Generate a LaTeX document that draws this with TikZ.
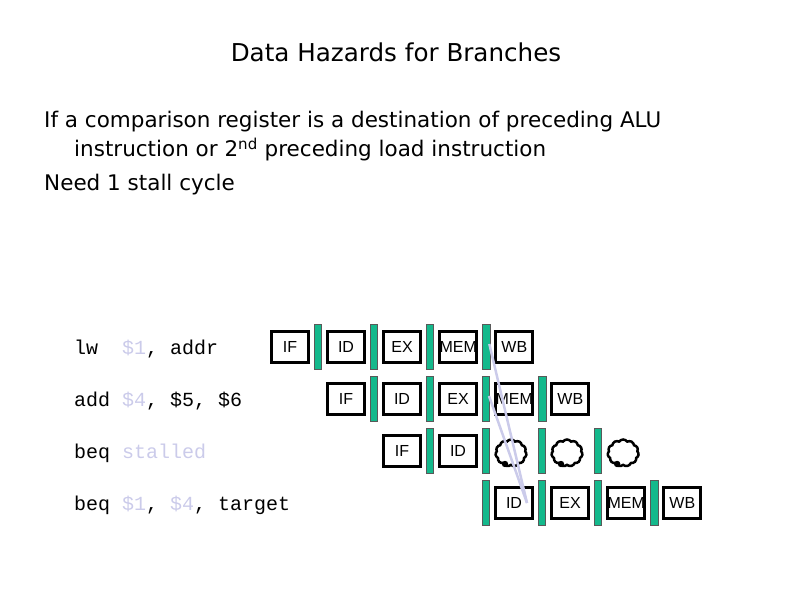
\documentclass[tikz,border=0pt]{standalone}
\usepackage{fontspec}
\setmainfont{DejaVu Sans}
\setsansfont{Liberation Sans}
\setmonofont{Liberation Mono}
\usepackage{xcolor}
\usetikzlibrary{positioning,calc,shapes.symbols}
\definecolor{latchgreen}{HTML}{14B98C}
\definecolor{fwdblue}{HTML}{CBCBEA}
\newcommand{\reg}[1]{\textcolor{fwdblue}{#1}}
\tikzset{
  stagebox/.style={draw,line width=3pt,minimum width=37pt,minimum height=31pt,inner sep=0pt,outer sep=0pt,font=\sffamily\fontsize{16}{16}\selectfont},
  latch/.style={draw=black!65,line width=.6pt,fill=latchgreen,minimum width=7.2pt,minimum height=45pt,inner sep=0pt,outer sep=0pt},
  bubble/.style={draw,line width=2.5pt,cloud,cloud puffs=11,cloud puff arc=110,aspect=1.15,minimum width=31pt,minimum height=27pt,inner sep=0pt,xshift=-3pt,yshift=-2pt},
  heading/.style={anchor=base,inner sep=0pt,font=\fontsize{24.6}{24}\selectfont},
  bodyline/.style={anchor=base west,inner sep=0pt,font=\fontsize{21.5}{24}\selectfont},
  code/.style={anchor=base west,inner sep=0pt,font=\ttfamily\fontsize{20}{20}\selectfont},
  fwd/.style={draw=fwdblue,line width=2.5pt},
}
\begin{document}
\begin{tikzpicture}[x=1pt,y=-1pt,node distance=5.9pt]
\useasboundingbox (0,0) rectangle (792,612);
\node[heading] (title) at (396,62) {Data Hazards for Branches};
\node[bodyline] (line1) at (44,128) {If a comparison register is a destination of preceding ALU};
\node[bodyline] (line2) at (74,157) {instruction or 2\textsuperscript{nd} preceding load instruction};
\node[bodyline] (line3) at (44,191) {Need 1 stall cycle};
\node[code] (lw) at (74,354) {lw\ \ \reg{\$1}, addr};
\node[code] (add) at (74,406) {add \reg{\$4}, \$5, \$6};
\node[code] (stall) at (74,458) {beq \reg{stalled}};
\node[code] (beq) at (74,510) {beq \reg{\$1}, \reg{\$4}, target};
% first row
\node[stagebox] (r1if) at (290,347) {IF};
\node[latch, right=of r1if] (r1b1) {};
\node[stagebox, right=of r1b1] (r1id) {ID};
\node[latch, right=of r1id] (r1b2) {};
\node[stagebox, right=of r1b2] (r1ex) {EX};
\node[latch, right=of r1ex] (r1b3) {};
\node[stagebox, right=of r1b3] (r1mem) {MEM};
\node[latch, right=of r1mem] (r1b4) {};
\node[stagebox, right=of r1b4] (r1wb) {WB};
% second row
\node[stagebox] (r2if) at (346,399) {IF};
\node[latch, right=of r2if] (r2b1) {};
\node[stagebox, right=of r2b1] (r2id) {ID};
\node[latch, right=of r2id] (r2b2) {};
\node[stagebox, right=of r2b2] (r2ex) {EX};
\node[latch, right=of r2ex] (r2b3) {};
\node[stagebox, right=of r2b3] (r2mem) {MEM};
\node[latch, right=of r2mem] (r2b4) {};
\node[stagebox, right=of r2b4] (r2wb) {WB};
% last row
\node[latch] (r4b0) at (486,503) {};
\node[stagebox, right=of r4b0] (r4id) {ID};
\node[latch, right=of r4id] (r4b1) {};
\node[stagebox, right=of r4b1] (r4ex) {EX};
\node[latch, right=of r4ex] (r4b2) {};
\node[stagebox, right=of r4b2] (r4mem) {MEM};
\node[latch, right=of r4mem] (r4b3) {};
\node[stagebox, right=of r4b3] (r4wb) {WB};
% stalled row
\node[stagebox] (r3if) at (402,451) {IF};
\node[latch, right=of r3if] (r3b1) {};
\node[stagebox, right=of r3b1] (r3id) {ID};
\node[latch, right=of r3id] (r3b2) {};
\node[bubble] (r3c1) at (r4id |- r3if) {};
\node[latch] (r3b3) at (r4b1 |- r3if) {};
\node[bubble] (r3c2) at (r4ex |- r3if) {};
\node[latch] (r3b4) at (r4b2 |- r3if) {};
\node[bubble] (r3c3) at (r4mem |- r3if) {};
\foreach \c in {r3c1,r3c2,r3c3}
  \fill ($(\c.center)+(-6,11)$) circle (3.2pt);
% forwarding
\coordinate (src1) at ($(r1b4.center)+(3,-3)$);
\coordinate (src2) at ($(r2b3.center)+(3,-3)$);
\coordinate (dst) at ($(r4id.center)+(13,0)$);
\draw[fwd] (src1) -- (dst);
\draw[fwd] (src2) -- (dst);
\end{tikzpicture}
\end{document}
